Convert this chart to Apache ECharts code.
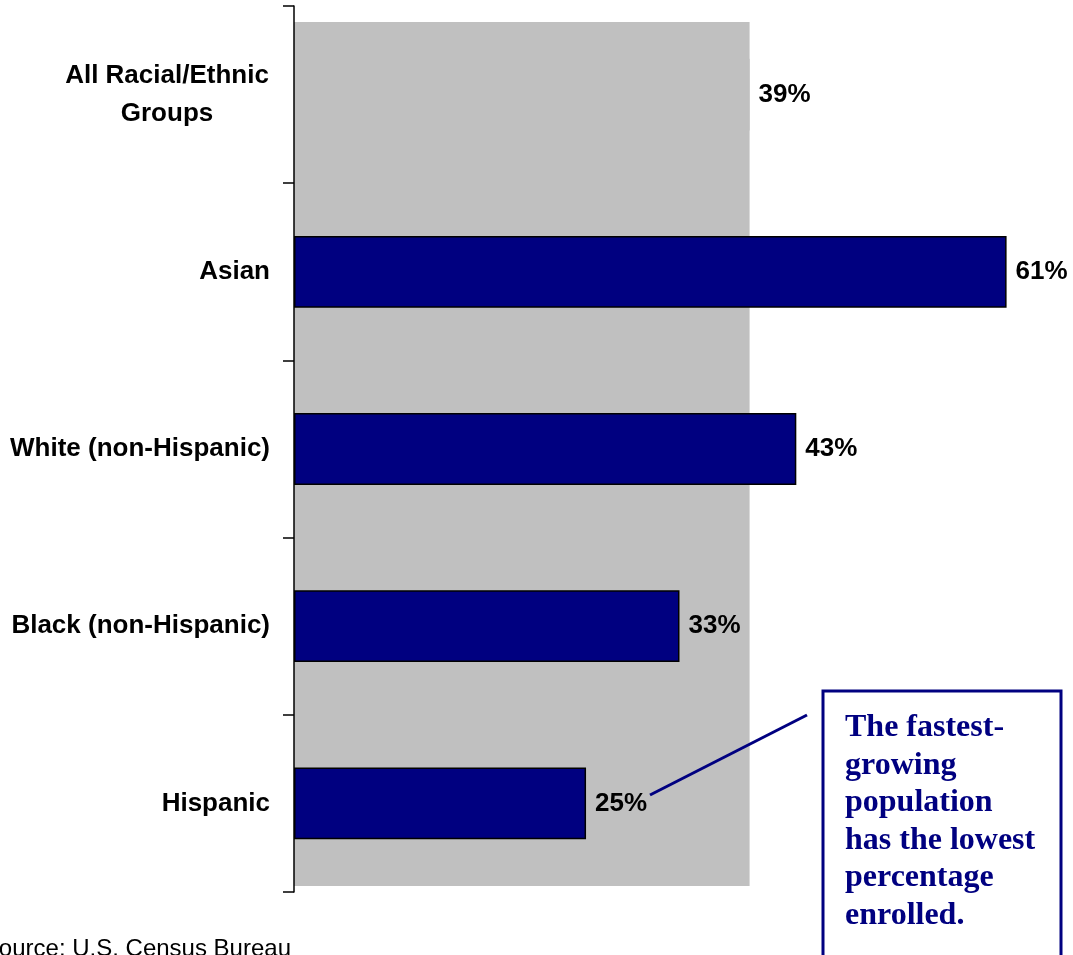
<!DOCTYPE html>
<html>
<head>
<meta charset="utf-8">
<script src="https://cdn.jsdelivr.net/npm/echarts@6/dist/echarts.min.js"></script>
<style>
    html, body { margin: 0; padding: 0; background: #fff; }
    #chart { width: 1073px; height: 955px; }
</style>
</head>
<body>
<div id="chart"></div>
<script>
// categories top to bottom
const groups = ['All Racial/Ethnic\nGroups', 'Asian', 'White (non-Hispanic)', 'Black (non-Hispanic)', 'Hispanic']
const enrolled = [39, 61, 43, 33, 25] // percent enrolled
const allGroupsValue = [39] // drawn as the grey band behind everything
const noteLines = ['The fastest-', 'growing', 'population', 'has the lowest', 'percentage', 'enrolled.']

const NAVY = '#000080'
const GREY = '#C0C0C0'
const LABEL_FONT = '"Liberation Sans", Arial, sans-serif'

let chart = echarts.init(document.getElementById('chart'), null, { renderer: 'canvas' })

let barData = enrolled.map((v, i) => {
    if (i === 0) {
        return { value: v, itemStyle: { color: GREY, borderWidth: 0 } }
    }
    return v
})

let option = {
    animation: false,
    grid: [
        { left: 294, right: 8, top: 6, bottom: 63, containLabel: false, outerBoundsMode: 'none' },
        { left: 294, right: 8, top: 22, bottom: 69, containLabel: false, outerBoundsMode: 'none' } // grey band
    ],
    xAxis: [
        { type: 'value', gridIndex: 0, min: 0, max: 66, show: false, splitLine: { show: false } },
        { type: 'value', gridIndex: 1, min: 0, max: 66, show: false, splitLine: { show: false } }
    ],
    yAxis: [
        {
            type: 'category',
            gridIndex: 0,
            data: groups,
            inverse: true,
            axisLine: { show: true, lineStyle: { color: '#000', width: 1.5 } },
            axisTick: { show: true, length: 11, lineStyle: { color: '#000', width: 1.5 } },
            axisLabel: {
                margin: 24,
                fontFamily: LABEL_FONT,
                fontWeight: 'bold',
                fontSize: 26,
                color: '#000',
                formatter: function (val) {
                    if (val.indexOf('\n') >= 0) {
                        return '{c|' + val.split('\n').join('}\n{c|') + '}'
                    }
                    return val
                },
                rich: {
                    c: {
                        width: 206,
                        align: 'center',
                        fontFamily: LABEL_FONT,
                        fontWeight: 'bold',
                        fontSize: 26,
                        lineHeight: 38,
                        color: '#000'
                    }
                }
            },
            z: 5
        },
        {
            type: 'category',
            gridIndex: 1,
            data: ['all'],
            show: false
        }
    ],
    series: [
        {
            name: 'background',
            type: 'bar',
            xAxisIndex: 1,
            yAxisIndex: 1,
            data: allGroupsValue,
            barWidth: '100%',
            itemStyle: { color: GREY },
            silent: true,
            z: 1
        },
        {
            name: 'enrolled',
            type: 'bar',
            xAxisIndex: 0,
            yAxisIndex: 0,
            data: barData,
            barWidth: '40.5%',
            itemStyle: { color: NAVY, borderColor: '#000', borderWidth: 1.5 },
            label: {
                show: true,
                position: 'right',
                distance: 9,
                formatter: '{c}%',
                fontFamily: LABEL_FONT,
                fontWeight: 'bold',
                fontSize: 26,
                color: '#000'
            },
            z: 3
        }
    ],
    graphic: [
        {
            type: 'text',
            right: 1073 - 291,
            top: 937,
            style: {
                text: 'Source: U.S. Census Bureau',
                font: '24px "Liberation Sans", Arial, sans-serif',
                fill: '#000'
            }
        },
        {
            type: 'line',
            shape: { x1: 650, y1: 795, x2: 807, y2: 715 },
            style: { stroke: NAVY, lineWidth: 3 },
            z: 10
        },
        {
            type: 'rect',
            shape: { x: 823, y: 691, width: 238, height: 280 },
            style: { fill: '#fff', stroke: NAVY, lineWidth: 3 },
            z: 10
        },
        {
            type: 'text',
            left: 845,
            top: 709,
            style: {
                text: noteLines.join('\n'),
                font: 'bold 32px "Liberation Serif", "Times New Roman", serif',
                lineHeight: 37.6,
                fill: NAVY
            },
            z: 11
        }
    ]
}

chart.setOption(option)
</script>
</body>
</html>
